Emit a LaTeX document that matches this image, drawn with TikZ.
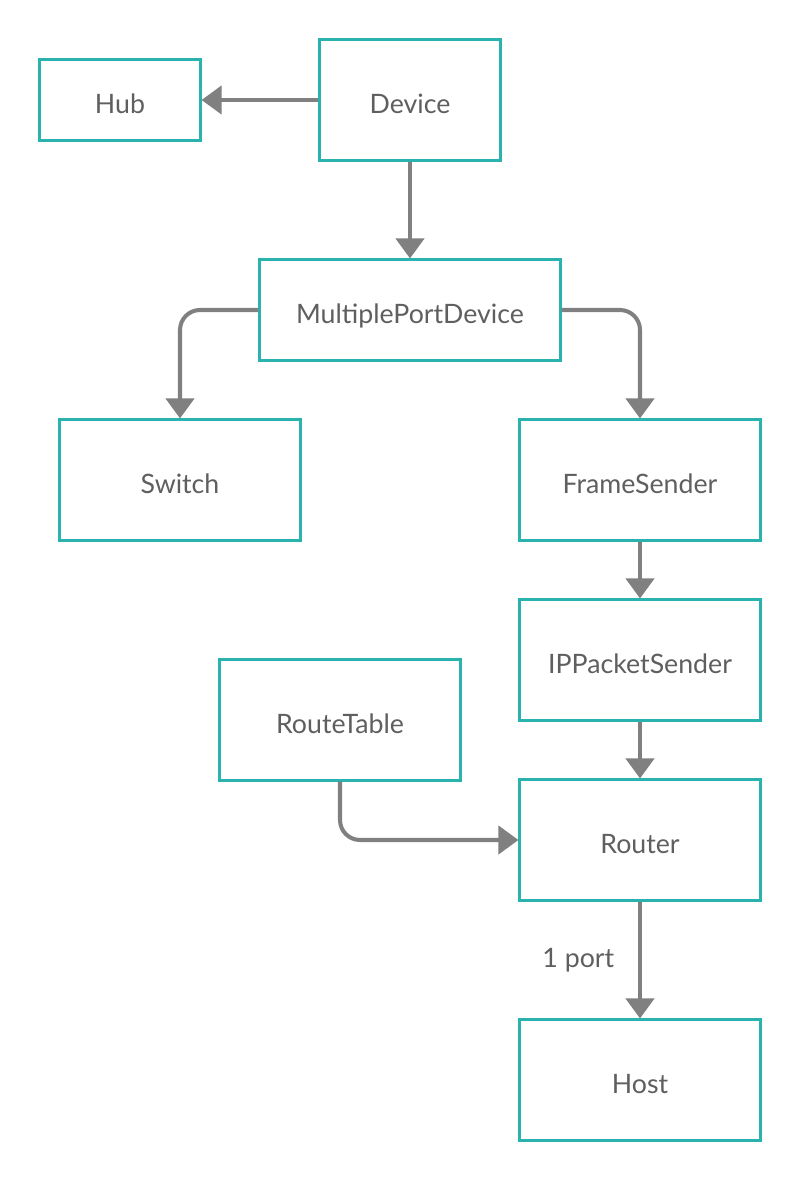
\documentclass[tikz,border=0pt]{standalone}
\usepackage{fontspec}
\setmainfont{Lato}
\usetikzlibrary{arrows.meta, positioning}
\definecolor{boxteal}{HTML}{2AB2AF}
\definecolor{linegray}{HTML}{808080}
\definecolor{textgray}{HTML}{5F5F5F}

\begin{document}
\begin{tikzpicture}[x=0.01cm, y=-0.01cm,
		cls/.style={draw=boxteal, line width=0.85pt, fill=white, text=textgray, font=\fontsize{7.6}{9}\selectfont, inner sep=0pt, text height=0.78em, text depth=0pt},
		link/.style={draw=linegray, line width=1.15pt, -{Triangle[length=0.2cm, width=0.28cm]}, rounded corners=0.2cm}]
		\useasboundingbox (0,0) rectangle (800,1180);
		\node[cls, minimum width=1.6cm, minimum height=0.8cm] (hub) at (120,100) {Hub};
		\node[cls, minimum width=1.8cm, minimum height=1.2cm] (device) at (410,100) {Device};
		\node[cls, minimum width=3cm, minimum height=1cm] (mpd) at (410,310) {MultiplePortDevice};
		\node[cls, minimum width=2.4cm, minimum height=1.2cm] (switch) at (180,480) {Switch};
		\node[cls, minimum width=2.4cm, minimum height=1.2cm] (frame) at (640,480) {FrameSender};
		\node[cls, minimum width=2.4cm, minimum height=1.2cm] (ippacket) at (640,660) {IPPacketSender};
		\node[cls, minimum width=2.4cm, minimum height=1.2cm] (routetable) at (340,720) {RouteTable};
		\node[cls, minimum width=2.4cm, minimum height=1.2cm] (router) at (640,840) {Router};
		\node[cls, minimum width=2.4cm, minimum height=1.2cm] (host) at (640,1080) {Host};
		\draw[link] (device.west) -- (hub.east);
		\draw[link] (device.south) -- (mpd.north);
		\draw[link] (mpd.west) -| (switch.north);
		\draw[link] (mpd.east) -| (frame.north);
		\draw[link] (frame.south) -- (ippacket.north);
		\draw[link] (ippacket.south) -- (router.north);
		\draw[link] (routetable.south) |- (router.west);
		\draw[link] (router.south) -- node[left=0.12cm, text=textgray, font=\fontsize{7.6}{9}\selectfont] (portlabel) {1 port} (host.north);
	\end{tikzpicture}
\end{document}
